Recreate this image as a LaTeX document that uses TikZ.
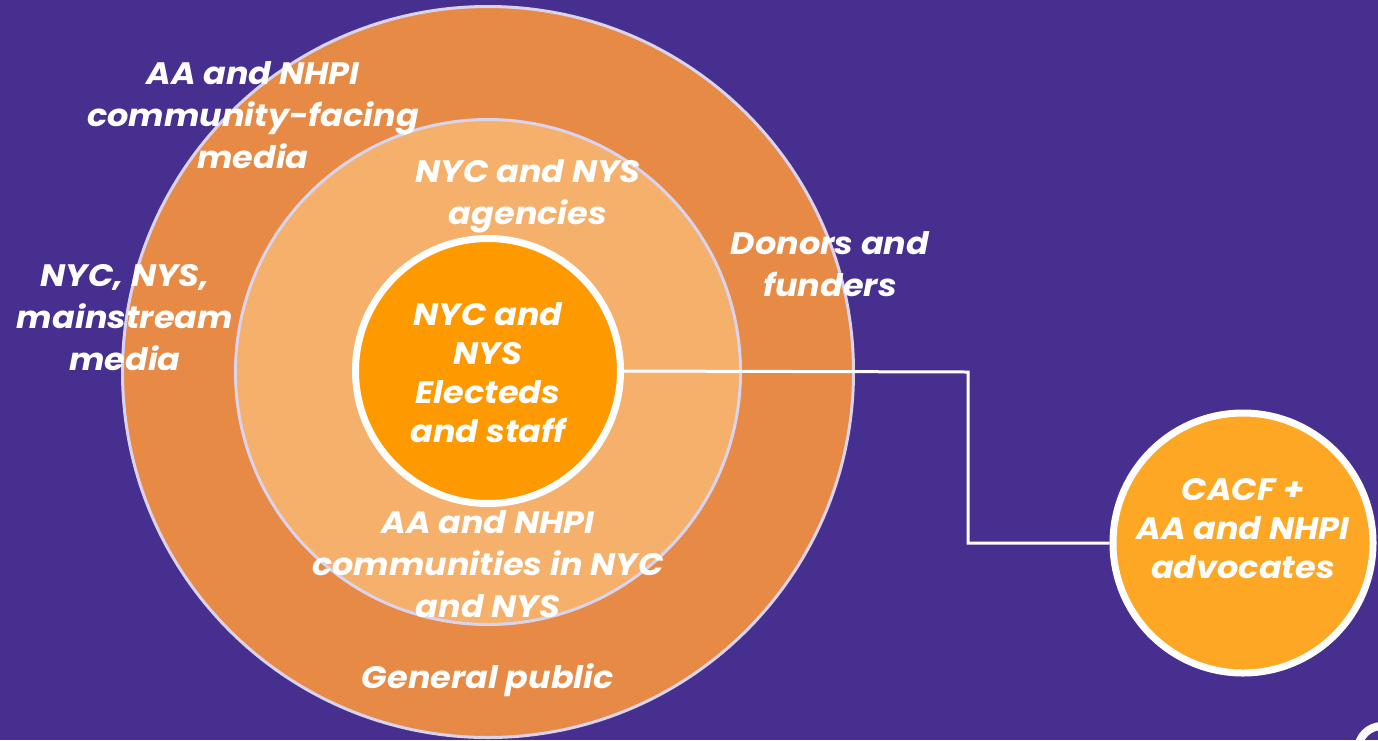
\documentclass[tikz,border=0pt]{standalone}
\usepackage{fontspec}
\setmainfont{Poppins}[FakeStretch=1.08]

\definecolor{bgpurple}{HTML}{472F8F}
\definecolor{ringout}{HTML}{E68A45}
\definecolor{ringmid}{HTML}{F5B06C}
\definecolor{coreorange}{HTML}{FE9A00}
\definecolor{cacforange}{HTML}{FDA724}
\definecolor{rimlav}{HTML}{D9D3EE}

\begin{document}
\begin{tikzpicture}[x=1pt,y=-1pt,
    ring/.style={circle,draw=rimlav,line width=3pt,inner sep=0pt},
    hub/.style={circle,draw=white,line width=7pt,inner sep=0pt},
    lbl/.style={text=white,align=center,font=\fontsize{31}{42}\selectfont\bfseries\itshape},
    hublbl/.style={text=white,align=center,font=\fontsize{31}{39}\selectfont\bfseries\itshape}]
        \fill[bgpurple] (0,0) rectangle (1378,740);
        \useasboundingbox (0,0) rectangle (1378,740);
        \clip (0,0) rectangle (1378,740);
        % rings
        \node[ring,fill=ringout,minimum size=731pt] (outer) at (488,372) {};
        \node[ring,fill=ringmid,minimum size=505pt] (middle) at (488,372) {};
        \node[hub,fill=coreorange,minimum size=265pt] (core) at (488,371) {};
        \node[hub,fill=cacforange,minimum size=260pt] (cacf) at (1243,543) {};
        \coordinate (bend1) at (968,372);
        \coordinate (bend2) at (968,543);
        \draw[white,line width=3pt] (core.east) -- (bend1) -- (bend2) -- (cacf.west);
        % corner mark
        \draw[white,line width=8pt] (1382,750) circle [radius=24];
        % labels
        \node[lbl] (commedia) at (253,115) {AA and NHPI\\community-facing\\media};
        \node[lbl] (agencies) at (528,196) {NYC and NYS\\agencies};
        \node[lbl] (donors) at (830,264) {Donors and\\funders};
        \node[lbl] (mainmedia) at (125,318) {NYC, NYS,\\mainstream\\media};
        \node[lbl] (communities) at (488,564) {AA and NHPI\\communities in NYC\\and NYS};
        \node[lbl] (public) at (488,680) {General public};
        \node[hublbl] at (488,373) {NYC and\\NYS\\Electeds\\and staff};
        \node[hublbl] at (1243,529) {CACF +\\AA and NHPI\\advocates};
    \end{tikzpicture}
\end{document}
